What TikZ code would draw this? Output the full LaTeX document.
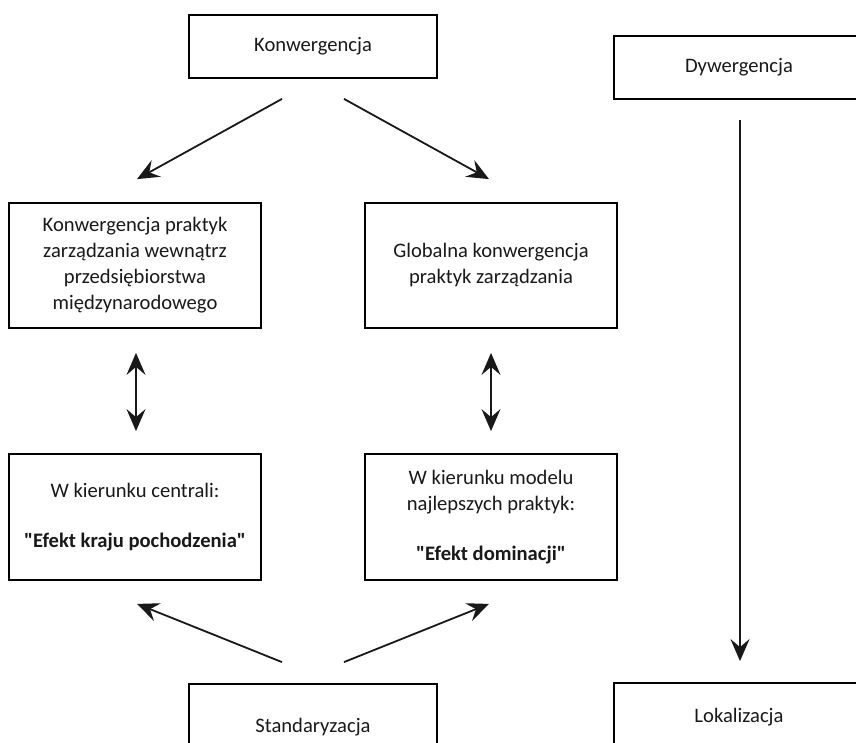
\documentclass[tikz,border=0pt]{standalone}
\usepackage{fontspec}
\setmainfont{Carlito}
\usetikzlibrary{arrows.meta}

\begin{document}
\begin{tikzpicture}[
    x=1pt, y=-1pt,
    box/.style={draw=black, line width=1.8pt, inner sep=0pt, align=center,
                font=\fontsize{20.6}{26}\selectfont, text=black!90},
    arr/.style={line width=1.8pt, draw=black!90,
                -{Stealth[length=22pt, width=19pt, inset=8pt]}},
    darr/.style={line width=1.8pt, draw=black!90,
                {Stealth[length=22pt, width=19pt, inset=8pt]}-{Stealth[length=22pt, width=19pt, inset=8pt]}}
  ]
  \useasboundingbox (0,0) rectangle (856,743);
  \clip (0,0) rectangle (856,743);
  \fill[white] (0,0) rectangle (856,743);

  % top row
  \node[box, minimum width=248, minimum height=63] (konw) at (313,46.5) {Konwergencja};
  \node[box, minimum width=250, minimum height=63] (dyw) at (739,67.5) {Dywergencja};

  % middle row
  \node[box, minimum width=252, minimum height=125] (mgmt) at (135,265.5)
    {Konwergencja praktyk\\zarządzania wewnątrz\\przedsiębiorstwa\\międzynarodowego};
  \node[box, minimum width=252, minimum height=125] (glob) at (491,265.5)
    {Globalna konwergencja\\praktyk zarządzania};

  % lower row
  \node[box, minimum width=252, minimum height=126] (cent) at (135,517)
    {W kierunku centrali:\\[24pt]\textbf{\textquotedbl Efekt kraju pochodzenia\textquotedbl}};
  \node[box, minimum width=252, minimum height=126] (best) at (491,517)
    {W kierunku modelu\\najlepszych praktyk:\\[24pt]\textbf{\textquotedbl Efekt dominacji\textquotedbl}};

  % bottom row (boxes run past the lower edge)
  \node[box, minimum width=248, minimum height=87] (stand) at (313,727.5) {Standaryzacja};
  \node[box, minimum width=250, minimum height=69] (lok) at (739,717.5) {Lokalizacja};

  % connectors
  \draw[arr] ([shift={(-31,20)}]konw.south) -- ([shift={(2,-23)}]mgmt.north);
  \draw[arr] ([shift={(31,20)}]konw.south) -- ([shift={(-2,-23)}]glob.north);

  \draw[darr] ([shift={(1,24)}]mgmt.south) -- ([shift={(1,-22)}]cent.north);
  \draw[darr] ([shift={(0,24)}]glob.south) -- ([shift={(0,-22)}]best.north);

  \draw[arr] ([shift={(-31,-21)}]stand.north) -- ([shift={(2,23)}]cent.south);
  \draw[arr] ([shift={(31,-21)}]stand.north) -- ([shift={(-2,23)}]best.south);

  \draw[arr] ([shift={(1,20)}]dyw.south) -- ([shift={(1,-21)}]lok.north);
\end{tikzpicture}
\end{document}
